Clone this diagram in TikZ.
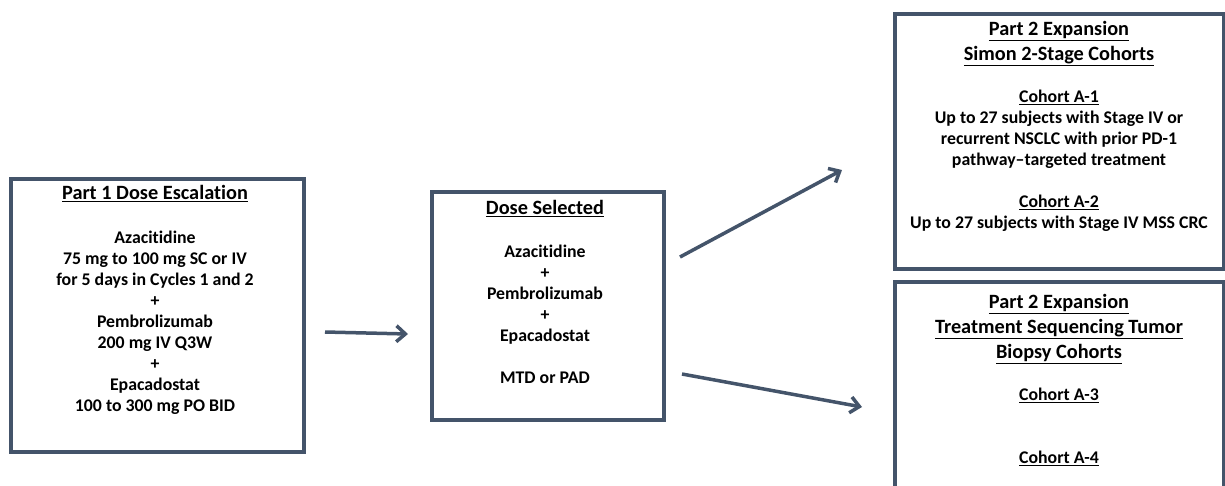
\documentclass[tikz,border=0pt]{standalone}
\usepackage{fontspec}
\setmainfont[Ligatures=NoCommon]{Carlito}
\usetikzlibrary{arrows.meta}
\definecolor{slate}{RGB}{68,84,106}

\begin{document}
\begin{tikzpicture}[x=1pt, y=-1pt, box/.style={draw=slate, line width=3.5pt, inner sep=0},
	head/.style={anchor=north, align=center, inner sep=0, font=\fontsize{20.3}{25}\selectfont\bfseries},
	body/.style={anchor=north, align=center, inner sep=0, font=\fontsize{17.8}{21}\selectfont\bfseries},
	flow/.style={draw=slate, line width=3.5pt, -{Straight Barb[length=9pt, width=16pt, line width=3.5pt]}}]
	\useasboundingbox (0,0) rectangle (1225,485);
	\clip (0,0) rectangle (1225,485);

	% boxes
	\node[box, minimum width=293pt, minimum height=273pt, anchor=north west] (part1) at (9,177) {};
	\node[box, minimum width=232pt, minimum height=228pt, anchor=north west] (dose) at (430,190) {};
	\node[box, minimum width=329pt, minimum height=255pt, anchor=north west] (simon) at (893,12) {};
	\node[box, minimum width=329pt, minimum height=230pt, anchor=north west] (biopsy) at (893,280) {};

	% texts
	\node[head] (part1 title) at (155,185) {\underline{Part 1 Dose Escalation}};
	\node[body] (part1 text) at (155,231) {Azacitidine\\ 75 mg to 100 mg SC or IV\\ for 5 days in Cycles 1 and 2\\ +\\ Pembrolizumab\\ 200 mg IV Q3W\\ +\\ Epacadostat\\ 100 to 300 mg PO BID};

	\node[head] (dose title) at (545,200) {\underline{Dose Selected}};
	\node[body] (dose text) at (545,245) {Azacitidine\\ +\\ Pembrolizumab\\ +\\ Epacadostat\\[21pt] MTD or PAD};

	\node[head] (simon title) at (1059,21) {\underline{Part 2 Expansion}\\ \underline{Simon 2-Stage Cohorts}};
	\node[body] (simon text) at (1059,90) {\underline{Cohort A-1}\\ Up to 27 subjects with Stage IV or\\ recurrent NSCLC with prior PD-1\\ pathway--targeted treatment\\[21pt] \underline{Cohort A-2}\\ Up to 27 subjects with Stage IV MSS CRC};

	\node[head] (biopsy title) at (1059,294) {\underline{Part 2 Expansion}\\ \underline{Treatment Sequencing Tumor}\\ \underline{Biopsy Cohorts}};
	\node[body] (cohort a3) at (1059,388) {\underline{Cohort A-3}};
	\node[body] (cohort a4) at (1059,451) {\underline{Cohort A-4}};

	% arrows
	\coordinate (a1) at (325,332);
	\coordinate (b1) at (408,334);
	\coordinate (a2) at (680,257);
	\coordinate (b2) at (842,170);
	\coordinate (a3) at (682,374);
	\coordinate (b3) at (862,407);
	\draw[flow] (a1) -- (b1);
	\draw[flow] (a2) -- (b2);
	\draw[flow] (a3) -- (b3);
\end{tikzpicture}
\end{document}
